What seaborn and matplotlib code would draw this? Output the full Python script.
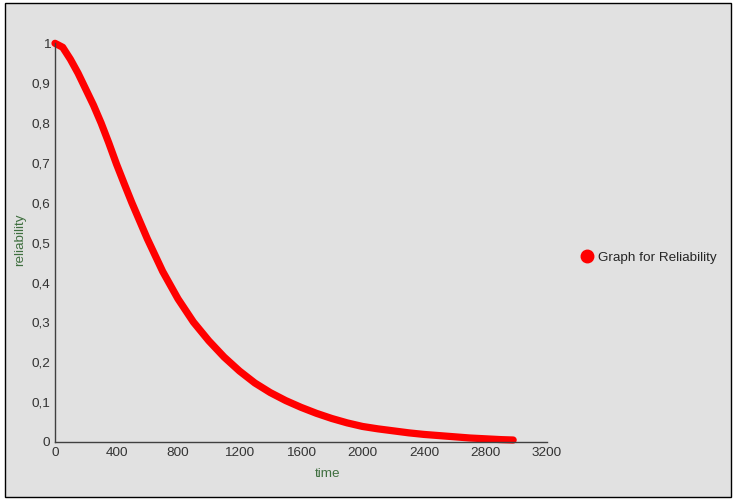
import numpy as np
import matplotlib
matplotlib.use("Agg")
import matplotlib.pyplot as plt
from matplotlib.lines import Line2D
from matplotlib.patches import Rectangle
from matplotlib.ticker import MultipleLocator, FuncFormatter
import seaborn as sns

# valores
tiempo = [0, 50, 100, 150, 200, 250, 300, 350, 400, 450, 500, 600, 700, 800, 900, 1000,
          1100, 1200, 1300, 1400, 1500, 1600, 1700, 1800, 1900, 2000, 2100, 2200, 2300,
          2400, 2500, 2600, 2700, 2800, 2900, 2980]
fiabilidad = [1.000, 0.990, 0.960, 0.925, 0.885, 0.845, 0.800, 0.750, 0.697, 0.648,
              0.600, 0.510, 0.428, 0.359, 0.301, 0.254, 0.213, 0.178, 0.148, 0.124,
              0.104, 0.087, 0.072, 0.059, 0.048, 0.039, 0.033, 0.028, 0.023, 0.019,
              0.016, 0.013, 0.010, 0.008, 0.006, 0.005]
serie = "Graph for Reliability"

gris = "#e1e1e1"
rojo = "#ff0000"
verde = "#3f6f3f"
eje = "#404040"

sns.set_style("white")
plt.rcParams["font.family"] = ["Liberation Sans", "DejaVu Sans"]

fig = plt.figure(figsize=(7.35, 5.04), dpi=100, facecolor="white")
fig.patches.append(Rectangle((5 / 735, 7 / 504), 726 / 735, 494 / 504,
                             transform=fig.transFigure, facecolor=gris,
                             edgecolor="black", linewidth=1, zorder=-10))
ax = fig.add_axes([55 / 735, 62 / 504, 492 / 735, 398.7 / 504])
ax.set_facecolor(gris)

sns.lineplot(x=tiempo, y=fiabilidad, ax=ax, color=rojo, linewidth=5.2,
             solid_capstyle="round", solid_joinstyle="round", legend=False, clip_on=False)

ax.set_xlim(0, 3200)
ax.set_ylim(0, 1)
ax.xaxis.set_major_locator(MultipleLocator(400))
ax.xaxis.set_minor_locator(MultipleLocator(200))
ax.yaxis.set_major_locator(MultipleLocator(0.1))
ax.yaxis.set_minor_locator(MultipleLocator(0.05))
ax.yaxis.set_major_formatter(FuncFormatter(lambda v, p: f"{v:.1f}".rstrip("0").rstrip(".").replace(".", ",")))
ax.tick_params(which="both", direction="inout", length=5, width=1, color=eje,
               labelsize=9.7, labelcolor="#333333", pad=1)

for s in ["top", "right"]:
    ax.spines[s].set_visible(False)
for s in ["left", "bottom"]:
    ax.spines[s].set_color(eje)
    ax.spines[s].set_linewidth(1)

ax.set_xlabel("time", color=verde, fontsize=9.7)
ax.set_ylabel("reliability", color=verde, fontsize=9.7)
ax.xaxis.set_label_coords((328 - 55) / 492, -0.066)
ax.yaxis.set_label_coords((26 - 55) / 492, 0.507)

mano = Line2D([], [], color=rojo, marker="o", linestyle="none", markersize=9)
fig.legend([mano], [serie], loc="center left", bbox_to_anchor=(568 / 735, 1 - 258 / 504),
           frameon=False, fontsize=9.7, handletextpad=-0.15, borderaxespad=0)

fig.savefig("out.png", dpi=100, facecolor=fig.get_facecolor())
